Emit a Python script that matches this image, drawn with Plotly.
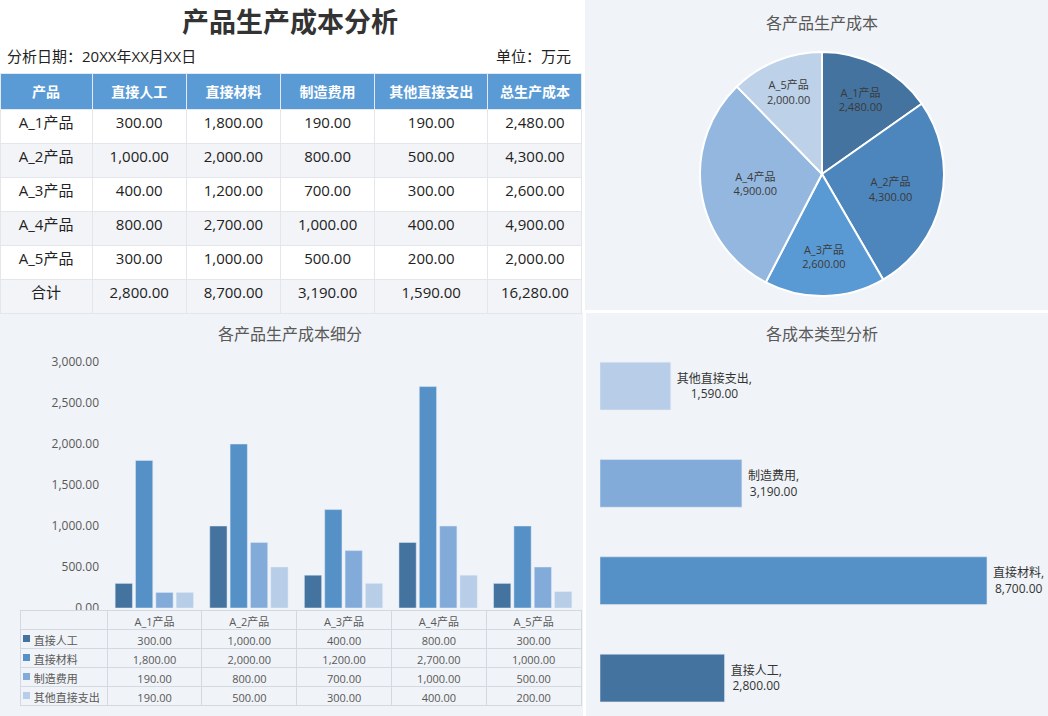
import plotly.graph_objects as go

# Figure size in px
W = 1048
H = 716

products = ["A_1产品", "A_2产品", "A_3产品", "A_4产品", "A_5产品"]
cost_types = ["直接人工", "直接材料", "制造费用", "其他直接支出"]
labor = [300, 1000, 400, 800, 300]
material = [1800, 2000, 1200, 2700, 1000]
overhead = [190, 800, 700, 1000, 500]
other = [190, 500, 300, 400, 200]
product_totals = [2480, 4300, 2600, 4900, 2000]
type_totals = [2800, 8700, 3190, 1590]
grand_total = 16280
y_ticks = [0, 500, 1000, 1500, 2000, 2500, 3000]

# Colours
type_colors = ["#44739F", "#5590C6", "#82ABDA", "#B7CDE8"]
pie_colors = ["#44739F", "#4D86BC", "#5A9AD4", "#94B7DF", "#BDD1E9"]
panel_bg = "#F0F3F7"
header_blue = "#5B9BD5"
text_dark = "#222222"
text_gray = "#595959"
cjk_font = "Noto Sans CJK SC"
mixed_font = "Open Sans, Noto Sans CJK SC"


def px(x):
    return x / W


def py(y):
    return 1 - y / H


def fmt(v):
    return f"{v:,.2f}"


fig = go.Figure()

# ---- top-left summary table
series = [labor, material, overhead, other]
col_labor = [fmt(v) for v in labor] + [fmt(type_totals[0])]
col_material = [fmt(v) for v in material] + [fmt(type_totals[1])]
col_overhead = [fmt(v) for v in overhead] + [fmt(type_totals[2])]
col_other = [fmt(v) for v in other] + [fmt(type_totals[3])]
col_total = [fmt(v) for v in product_totals] + [fmt(grand_total)]
row_fill = ["white", "#F2F4F8", "white", "#F2F4F8", "white", "#F2F4F8"]

fig.add_trace(go.Table(
    domain=dict(x=[0, px(582)], y=[0, py(73)]),
    columnwidth=[92, 94, 94, 94, 113, 94],
    header=dict(values=["<b>%s</b>" % h for h in ["产品"] + cost_types + ["总生产成本"]],
                fill_color=header_blue,
                line_color="#E6EAF0",
                font=dict(color="white", size=14, family=cjk_font),
                height=33,
                align="center"),
    cells=dict(values=[products + ["合计"], col_labor, col_material,
                       col_overhead, col_other, col_total],
               fill_color=[row_fill] * 6,
               line_color="#E3E7EC",
               font=dict(color=text_dark, size=15, family=mixed_font),
               height=34,
               align="center"),
))

# ---- bottom-left data table under the column chart
pad = "\u00a0\u00a0"
legend_cells = [pad + t for t in cost_types]
per_product = [[fmt(s[i]) for s in series] for i in range(len(products))]

fig.add_trace(go.Table(
    domain=dict(x=[px(20), px(581)], y=[py(712), py(610)]),
    columnwidth=[87] + [94.6] * 5,
    header=dict(values=[""] + products,
                fill_color=panel_bg,
                line_color="#D3D9E1",
                font=dict(color=text_gray, size=11, family=mixed_font),
                height=19,
                align="center"),
    cells=dict(values=[legend_cells] + per_product,
               fill_color=panel_bg,
               line_color="#D3D9E1",
               font=dict(color=text_gray, size=11, family=mixed_font),
               height=19,
               align=["left"] + ["center"] * 5),
))

# ---- pie: total cost per product
fig.add_trace(go.Pie(
    labels=products,
    values=product_totals,
    text=[f"{p}<br>{fmt(v)}" for p, v in zip(products, product_totals)],
    textinfo="text",
    textposition="inside",
    insidetextorientation="horizontal",
    textfont=dict(size=11, color="#3A3A3A", family=mixed_font),
    sort=False,
    direction="clockwise",
    rotation=0,
    marker=dict(colors=pie_colors, line=dict(color="white", width=2)),
    domain=dict(x=[px(700), px(944)], y=[py(296), py(52)]),
    showlegend=False,
    hoverinfo="label+value",
))

# ---- grouped columns: cost breakdown per product
for name, vals, color in zip(cost_types, series, type_colors):
    fig.add_trace(go.Bar(
        x=products, y=vals, name=name,
        marker_color=color,
        xaxis="x", yaxis="y",
        showlegend=False,
    ))

# ---- horizontal bars: total per cost type
fig.add_trace(go.Bar(
    x=type_totals, y=cost_types,
    orientation="h",
    width=0.49,
    marker_color=type_colors,
    text=[f"\u00a0{t},<br>\u00a0{fmt(v)}" for t, v in zip(cost_types, type_totals)],
    textposition="outside",
    constraintext="none",
    cliponaxis=False,
    textfont=dict(size=12, color="#333333", family=mixed_font),
    xaxis="x2", yaxis="y2",
    showlegend=False,
))

# Panel backgrounds
panels = [(585, 0, 1048, 310), (0, 313, 583, 716), (586, 313, 1048, 716)]
shapes = []
for x0, y0, x1, y1 in panels:
    shapes.append(dict(type="rect", xref="paper", yref="paper",
                       x0=px(x0), x1=px(x1), y0=py(y1), y1=py(y0),
                       fillcolor=panel_bg, line_width=0, layer="below"))
# legend squares in the data table rows
for i, c in enumerate(type_colors):
    yc = 638.5 + 19 * i
    shapes.append(dict(type="rect", xref="paper", yref="paper",
                       x0=px(23), x1=px(30), y0=py(yc + 3.5), y1=py(yc - 3.5),
                       fillcolor=c, line_width=0, layer="above"))

# Titles and captions
annotations = [
    dict(text="<b>产品生产成本分析</b>", x=px(290), y=py(20),
         font=dict(size=27, color="#333333", family=cjk_font)),
    dict(text="分析日期：20XX年XX月XX日", x=px(5), y=py(56), xanchor="left",
         font=dict(size=15, color=text_dark, family=mixed_font)),
    dict(text="单位：万元", x=px(573), y=py(56), xanchor="right",
         font=dict(size=15, color=text_dark, family=mixed_font)),
    dict(text="各产品生产成本", x=px(822), y=py(22),
         font=dict(size=16, color=text_gray)),
    dict(text="各产品生产成本细分", x=px(290), y=py(333),
         font=dict(size=16, color=text_gray)),
    dict(text="各成本类型分析", x=px(822), y=py(333),
         font=dict(size=16, color=text_gray)),
]
for a in annotations:
    a.update(xref="paper", yref="paper", showarrow=False,
             xanchor=a.get("xanchor", "center"), yanchor="middle")

fig.update_layout(
    width=W, height=H,
    margin=dict(l=0, r=0, t=0, b=0, pad=0),
    paper_bgcolor="white",
    plot_bgcolor="rgba(0,0,0,0)",
    font=dict(family=cjk_font, color=text_gray),
    barmode="group",
    bargap=0.14,
    bargroupgap=0.15,
    shapes=shapes,
    annotations=annotations,
    # column chart axes
    xaxis=dict(domain=[px(107), px(580)], showticklabels=False,
               showgrid=False, zeroline=False, showline=False,
               automargin=False),
    yaxis=dict(domain=[py(608), py(362)], range=[0, 3000],
               tickvals=y_ticks, tickformat=",.2f",
               tickfont=dict(size=12, color=text_gray, family=mixed_font),
               ticklabelstandoff=7,
               showgrid=False, zeroline=False, showline=False,
               automargin=False),
    # horizontal bar axes
    xaxis2=dict(domain=[px(600), 1], range=[0, 10072], visible=False,
                anchor="y2", automargin=False),
    yaxis2=dict(domain=[py(712), py(340)], range=[-0.349, 3.473],
                visible=False, anchor="x2", automargin=False),
)

# drop the browser's default body margin so the figure sits at 0,0
fig.write_html("out.html",
               config={"displayModeBar": False},
               post_script="document.body.style.margin='0';")
